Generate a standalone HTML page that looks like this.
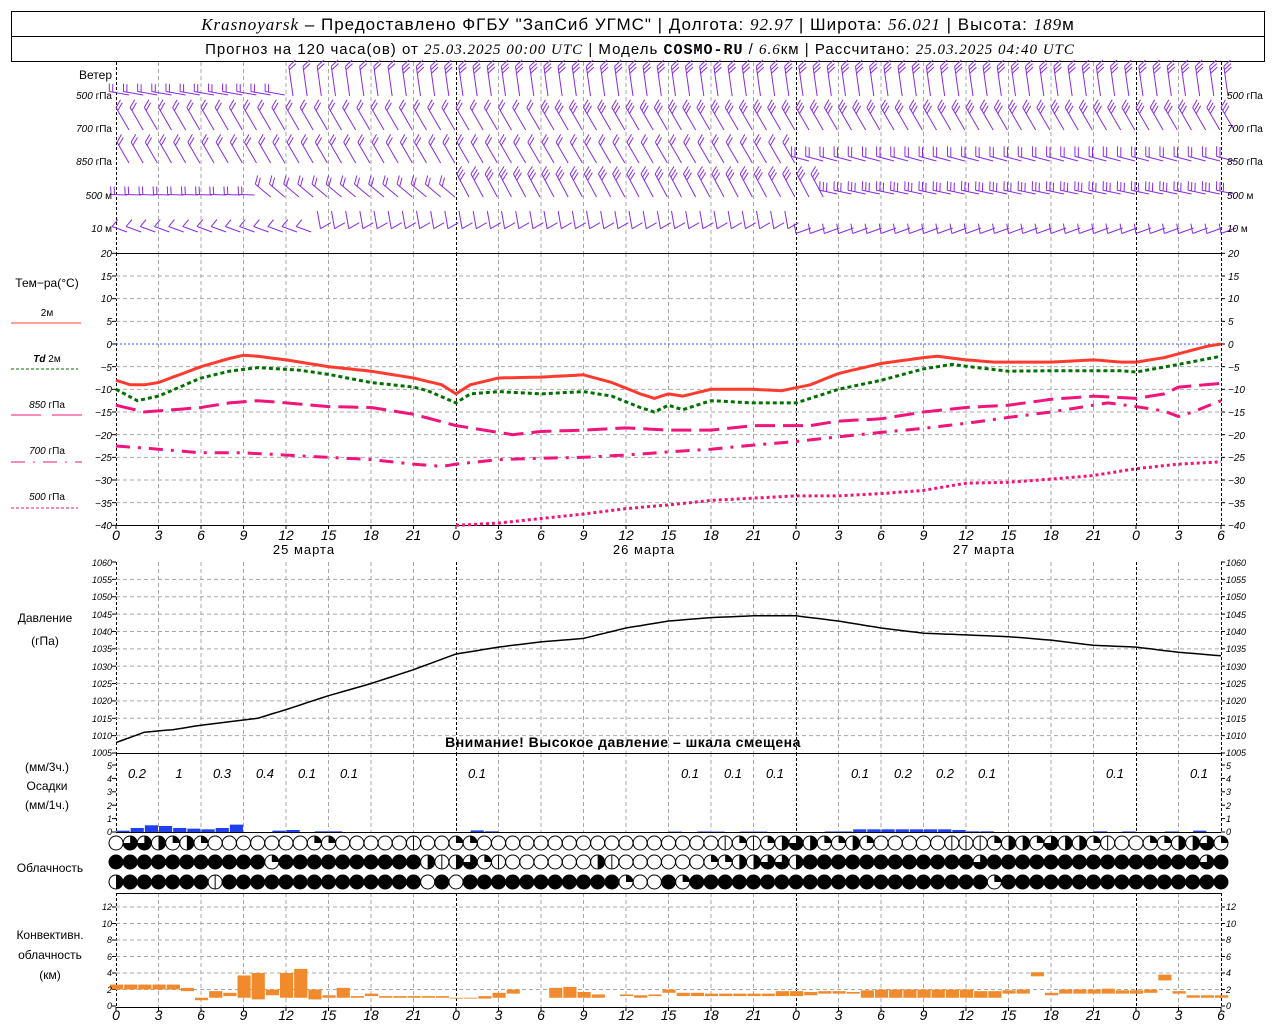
<!DOCTYPE html>
<html><head><meta charset="utf-8">
<style>
html,body{margin:0;padding:0;background:#fff;}
svg{display:block;font-family:"Liberation Sans","DejaVu Sans",sans-serif;}
.t{font-size:11px;font-style:italic;fill:#000;}
.l{font-size:12px;fill:#000;}
.w{font-size:10px;fill:#000;}
</style></head><body>
<svg id="s" width="1280" height="1024" viewBox="0 0 1280 1024" xmlns="http://www.w3.org/2000/svg">
<rect width="1280" height="1024" fill="#fff"/>
<rect x="11.5" y="11.5" width="1253" height="50" fill="none" stroke="#000"/>
<line x1="11" y1="36.5" x2="1265" y2="36.5" stroke="#000"/>
<text x="638" y="30" text-anchor="middle" style="font-size:17px;letter-spacing:1px"><tspan font-family="Liberation Serif" font-style="italic">Krasnoyarsk</tspan> – Предоставлено ФГБУ "ЗапСиб УГМС" | Долгота: <tspan font-family="Liberation Serif" font-style="italic">92.97</tspan> | Широта: <tspan font-family="Liberation Serif" font-style="italic">56.021</tspan> | Высота: <tspan font-family="Liberation Serif" font-style="italic">189</tspan>м</text>
<text x="640" y="54" text-anchor="middle" style="font-size:15px;letter-spacing:1px">Прогноз на 120 часа(ов) от <tspan font-family="Liberation Serif" font-style="italic">25.03.2025 00:00 UTC</tspan> | Модель <tspan font-weight="bold" font-family="Liberation Mono">COSMO-RU</tspan> / <tspan font-family="Liberation Serif" font-style="italic">6.6</tspan>км | Рассчитано: <tspan font-family="Liberation Serif" font-style="italic">25.03.2025 04:40 UTC</tspan></text>

<g id="grid"></g>
<g id="data"></g>

<g class="w" text-anchor="end">
<text x="112" y="79" style="font-size:12px">Ветер</text>
<text x="112" y="99"><tspan font-style="italic">500</tspan> гПа</text>
<text x="112" y="132"><tspan font-style="italic">700</tspan> гПа</text>
<text x="112" y="165"><tspan font-style="italic">850</tspan> гПа</text>
<text x="112" y="199"><tspan font-style="italic">500</tspan> м</text>
<text x="112" y="232"><tspan font-style="italic">10</tspan>  м</text>
</g>
<g class="w">
<text x="1227" y="99"><tspan font-style="italic">500</tspan> гПа</text>
<text x="1227" y="132"><tspan font-style="italic">700</tspan> гПа</text>
<text x="1227" y="165"><tspan font-style="italic">850</tspan> гПа</text>
<text x="1227" y="199"><tspan font-style="italic">500</tspan> м</text>
<text x="1227" y="232"><tspan font-style="italic">10</tspan>  м</text>
</g>

<g class="l" text-anchor="middle">
<text x="47" y="287">Тем−ра(°С)</text>
<text x="47" y="316" style="font-size:10px">2м</text>
<text x="47" y="362" style="font-size:10px"><tspan font-style="italic" font-weight="bold">Td</tspan>  2м</text>
<text x="47" y="408" style="font-size:10px"><tspan font-style="italic">850</tspan> гПа</text>
<text x="47" y="454" style="font-size:10px"><tspan font-style="italic">700</tspan> гПа</text>
<text x="47" y="500" style="font-size:10px"><tspan font-style="italic">500</tspan> гПа</text>
<text x="45" y="622">Давление</text>
<text x="45" y="645">(гПа)</text>
<text x="47" y="771">(мм/3ч.)</text>
<text x="47" y="790">Осадки</text>
<text x="47" y="809">(мм/1ч.)</text>
<text x="50" y="872">Облачность</text>
<text x="50" y="939">Конвективн.</text>
<text x="50" y="959">облачность</text>
<text x="50" y="979">(км)</text>
</g>
<line x1="11" y1="323" x2="81" y2="323" stroke="#ff3b30" stroke-width="1"/>
<line x1="11" y1="369" x2="78" y2="369" stroke="#007000" stroke-dasharray="3,2"/>
<line x1="11" y1="415" x2="41" y2="415" stroke="#f0147c"/><line x1="52" y1="415" x2="82" y2="415" stroke="#f0147c"/>
<line x1="11" y1="462" x2="82" y2="462" stroke="#f0147c" stroke-dasharray="14,8,2,8"/>
<line x1="11" y1="508" x2="78" y2="508" stroke="#f0147c" stroke-dasharray="3,2"/>

<g class="t" text-anchor="end" style="font-size:10px">
<text x="112" y="257">20</text><text x="112" y="280">15</text><text x="112" y="302">10</text><text x="112" y="325">5</text><text x="112" y="348">0</text><text x="112" y="371">−5</text><text x="112" y="393">−10</text><text x="112" y="416">−15</text><text x="112" y="439">−20</text><text x="112" y="461">−25</text><text x="112" y="484">−30</text><text x="112" y="507">−35</text><text x="112" y="529">−40</text>
</g>
<g class="t" style="font-size:10px">
<text x="1228" y="257">20</text><text x="1228" y="280">15</text><text x="1228" y="302">10</text><text x="1228" y="325">5</text><text x="1228" y="348">0</text><text x="1228" y="371">−5</text><text x="1228" y="393">−10</text><text x="1228" y="416">−15</text><text x="1228" y="439">−20</text><text x="1228" y="461">−25</text><text x="1228" y="484">−30</text><text x="1228" y="507">−35</text><text x="1228" y="529">−40</text>
</g>
<g class="t" text-anchor="middle" style="font-size:14px">
<text x="116" y="540">0</text><text x="158.5" y="540">3</text><text x="201" y="540">6</text><text x="243.5" y="540">9</text><text x="286" y="540">12</text><text x="328.5" y="540">15</text><text x="371" y="540">18</text><text x="413.5" y="540">21</text><text x="456" y="540">0</text><text x="498.5" y="540">3</text><text x="541" y="540">6</text><text x="583.5" y="540">9</text><text x="626" y="540">12</text><text x="668.5" y="540">15</text><text x="711" y="540">18</text><text x="753.5" y="540">21</text><text x="796" y="540">0</text><text x="838.5" y="540">3</text><text x="881" y="540">6</text><text x="923.5" y="540">9</text><text x="966" y="540">12</text><text x="1008.5" y="540">15</text><text x="1051" y="540">18</text><text x="1093.5" y="540">21</text><text x="1136" y="540">0</text><text x="1178.5" y="540">3</text><text x="1221" y="540">6</text>
</g>
<g class="l" text-anchor="middle" style="font-size:13px;letter-spacing:1px">
<text x="304" y="554">25 марта</text><text x="644" y="554">26 марта</text><text x="984" y="554">27 марта</text>
</g>
<g class="t" text-anchor="end" style="font-size:9px">
<text x="112" y="566">1060</text><text x="112" y="583">1055</text><text x="112" y="600">1050</text><text x="112" y="618">1045</text><text x="112" y="635">1040</text><text x="112" y="652">1035</text><text x="112" y="670">1030</text><text x="112" y="687">1025</text><text x="112" y="704">1020</text><text x="112" y="722">1015</text><text x="112" y="739">1010</text><text x="112" y="756">1005</text>
</g>
<g class="t" style="font-size:9px">
<text x="1226" y="566">1060</text><text x="1226" y="583">1055</text><text x="1226" y="600">1050</text><text x="1226" y="618">1045</text><text x="1226" y="635">1040</text><text x="1226" y="652">1035</text><text x="1226" y="670">1030</text><text x="1226" y="687">1025</text><text x="1226" y="704">1020</text><text x="1226" y="722">1015</text><text x="1226" y="739">1010</text><text x="1226" y="756">1005</text>
</g>
<text x="623" y="747" text-anchor="middle" style="font-size:14px;font-weight:bold;letter-spacing:0.5px">Внимание! Высокое давление – шкала смещена</text>
<g class="t" text-anchor="end" style="font-size:9px">
<text x="112" y="769">5</text><text x="112" y="782">4</text><text x="112" y="795">3</text><text x="112" y="809">2</text><text x="112" y="822">1</text><text x="112" y="835">0</text>
</g>
<g class="t" style="font-size:9px">
<text x="1226" y="769">5</text><text x="1226" y="782">4</text><text x="1226" y="795">3</text><text x="1226" y="809">2</text><text x="1226" y="822">1</text><text x="1226" y="835">0</text>
</g>
<g class="t" text-anchor="middle" style="font-size:13px">
<text x="137" y="778">0.2</text><text x="179" y="778">1</text><text x="222" y="778">0.3</text><text x="265" y="778">0.4</text><text x="307" y="778">0.1</text><text x="349" y="778">0.1</text><text x="477" y="778">0.1</text><text x="690" y="778">0.1</text><text x="733" y="778">0.1</text><text x="775" y="778">0.1</text><text x="860" y="778">0.1</text><text x="903" y="778">0.2</text><text x="945" y="778">0.2</text><text x="987" y="778">0.1</text><text x="1115" y="778">0.1</text><text x="1199" y="778">0.1</text>
</g>
<g class="t" text-anchor="end" style="font-size:9px">
<text x="112" y="910">12</text><text x="112" y="927">10</text><text x="112" y="943">8</text><text x="112" y="960">6</text><text x="112" y="976">4</text><text x="112" y="993">2</text><text x="112" y="1009">0</text>
</g>
<g class="t" style="font-size:9px">
<text x="1226" y="910">12</text><text x="1226" y="927">10</text><text x="1226" y="943">8</text><text x="1226" y="960">6</text><text x="1226" y="976">4</text><text x="1226" y="993">2</text><text x="1226" y="1009">0</text>
</g>
<g class="t" text-anchor="middle" style="font-size:14px">
<text x="116" y="1020">0</text><text x="158.5" y="1020">3</text><text x="201" y="1020">6</text><text x="243.5" y="1020">9</text><text x="286" y="1020">12</text><text x="328.5" y="1020">15</text><text x="371" y="1020">18</text><text x="413.5" y="1020">21</text><text x="456" y="1020">0</text><text x="498.5" y="1020">3</text><text x="541" y="1020">6</text><text x="583.5" y="1020">9</text><text x="626" y="1020">12</text><text x="668.5" y="1020">15</text><text x="711" y="1020">18</text><text x="753.5" y="1020">21</text><text x="796" y="1020">0</text><text x="838.5" y="1020">3</text><text x="881" y="1020">6</text><text x="923.5" y="1020">9</text><text x="966" y="1020">12</text><text x="1008.5" y="1020">15</text><text x="1051" y="1020">18</text><text x="1093.5" y="1020">21</text><text x="1136" y="1020">0</text><text x="1178.5" y="1020">3</text><text x="1221" y="1020">6</text>
</g>
</svg>
<script>
(function(){
var NS="http://www.w3.org/2000/svg";
var G=document.getElementById("grid"),D=document.getElementById("data");
function el(p,tag,a){var e=document.createElementNS(NS,tag);for(var k in a)e.setAttribute(k,a[k]);p.appendChild(e);return e;}
var X0=116,XS=340/24;
function X(h){return X0+h*XS;}
function line(p,x1,y1,x2,y2,c,dash,w){var a={x1:x1,y1:y1,x2:x2,y2:y2,stroke:c,"stroke-width":w||1};if(dash)a["stroke-dasharray"]=dash;el(p,"line",a);}
var panels=[[62,253],[253,525],[562,753],[753,832],[893,1007]];
panels.forEach(function(p){
 for(var k=1;k<26;k++){ if(k%8==0)continue; line(G,X(k*3),p[0],X(k*3),p[1],"#a8a8a8","4,3");}
 [24,48,72].forEach(function(h){line(G,X(h)+0.5,p[0],X(h)+0.5,p[1],"#000","3,2");});
 line(G,X0+0.5,p[0],X0+0.5,p[1],"#000","3,2");
 line(G,X(78)+0.5,p[0],X(78)+0.5,p[1],"#000","3,2");
});
for(var t=15;t>=-35;t-=5){var y=344-t*272/60;line(G,X0,y,X(78),y,t==0?"#3050ff":"#a8a8a8",t==0?"2,2":"4,3");}
for(var k=1;k<11;k++){var y=562+k*191/11;line(G,X0,y,X(78),y,"#a8a8a8","4,3");}
for(var k=1;k<=6;k++){var y=1006-k*16.5;line(G,X0,y,X(78),y,"#a8a8a8","4,3");}
line(G,X0,253.5,X(78),253.5,"#000");
line(G,X0,525.5,X(78),525.5,"#000");
line(G,X0,753.5,X(78),753.5,"#000");
line(G,X0,832.5,X(78),832.5,"#000");
line(G,X0,893.5,X(78),893.5,"#000");
line(G,X0,1007.5,X(78),1007.5,"#000");
function ticks(vals,fn){vals.forEach(function(v){var y=fn(v);line(G,X0-4,y,X0,y,"#000");line(G,X(78),y,X(78)+4,y,"#000");});}
var tv=[];for(var t=20;t>=-40;t-=5)tv.push(t);ticks(tv,function(t){return 344-t*272/60;});
var pv=[];for(var k=0;k<12;k++)pv.push(k);ticks(pv,function(k){return 562+k*191/11;});
ticks([0,1,2,3,4,5],function(k){return 832-k*13.4;});
ticks([0,1,2,3,4,5,6],function(k){return 1006-k*16.5;});
for(var k=0;k<=26;k++){line(G,X(k*3),1007,X(k*3),1011,"#000");line(G,X(k*3),525,X(k*3),529,"#000");}

function interp(pts,h){for(var i=0;i<pts.length-1;i++){if(h>=pts[i][0]&&h<=pts[i+1][0]){var f=(h-pts[i][0])/(pts[i+1][0]-pts[i][0]);return pts[i][1]+f*(pts[i+1][1]-pts[i][1]);}}return null;}
function series(pts,yf,col,w,dash,h0,h1){var d="";for(var h=h0;h<=h1+1e-6;h+=0.5){var v=interp(pts,h);if(v===null)continue;d+=(d?"L":"M")+X(h).toFixed(1)+","+yf(v).toFixed(1);}var a={d:d,fill:"none",stroke:col,"stroke-width":w};if(dash)a["stroke-dasharray"]=dash;el(D,"path",a);}
var TY=function(t){return 344-t*272/60;};
var T2=[[0,-8],[1,-9],[2,-9],[3,-8.5],[6,-5],[8,-3.2],[9,-2.5],[10,-2.7],[12,-3.5],[15,-5],[18,-6],[21,-7.5],[23,-9],[24,-11],[25,-9],[27,-7.5],[30,-7.3],[33,-6.8],[35,-8.5],[37,-11],[38,-12],[39,-11],[40,-11.5],[42,-10],[45,-10],[47,-10.3],[49,-9],[51,-6.5],[54,-4.3],[57,-3],[58,-2.7],[60,-3.5],[62,-4],[66,-4],[69,-3.5],[71,-4],[72,-4],[74,-3],[77,-0.5],[78,0]];
var TD=[[0,-10],[1.5,-12.5],[3,-11.5],[6,-7.5],[8,-6],[10,-5.2],[13,-5.8],[15,-6.7],[18,-8.5],[21,-9.5],[22,-10.3],[24,-13],[25,-11],[27,-10.5],[30,-11],[33,-10.5],[35,-11.5],[37,-14],[38,-15],[39,-13.5],[40,-14.5],[42,-12.5],[45,-13],[48,-13],[51,-10],[54,-8],[57,-5.5],[59,-4.5],[61,-5.3],[63,-6],[66,-5.9],[71,-5.9],[72,-6.2],[75,-4.5],[78,-2.7]];
var T85=[[0,-13.5],[2,-15],[4,-14.5],[6,-14],[8,-13],[10,-12.5],[12,-13],[15,-13.8],[18,-14],[21,-15.5],[24,-18],[27,-19.5],[28,-20],[30,-19.3],[33,-19],[36,-18.5],[39,-19],[42,-19],[45,-18],[48,-18],[49,-18],[51,-17],[54,-16.5],[57,-15],[60,-14],[63,-13.5],[66,-12.2],[69,-11.5],[72,-12],[74,-11],[75,-9.5],[78,-8.7]];
var T70=[[0,-22.5],[3,-23.2],[6,-24],[9,-24],[12,-24.5],[15,-25],[18,-25.5],[21,-26.5],[23,-27],[24,-26.5],[27,-25.5],[30,-25.2],[33,-25],[36,-24.5],[39,-23.8],[42,-23.2],[45,-22.3],[48,-21.5],[50,-20.8],[54,-19.5],[57,-18.6],[60,-17.5],[63,-16.2],[66,-15],[69,-13.5],[70,-13],[72,-13.8],[74,-14.8],[75,-16],[76,-15],[78,-12.5]];
var T50=[[24,-40],[27,-39.5],[30,-38.5],[33,-37.5],[36,-36.3],[39,-35.5],[42,-34.5],[45,-34],[48,-33.5],[51,-33.5],[54,-33],[57,-32.3],[60,-30.7],[63,-30.5],[66,-29.8],[69,-29],[72,-27.5],[75,-26.5],[78,-26]];
series(T50,TY,"#f0147c",3,"3,3",24,78);
series(T70,TY,"#f0147c",3,"14,8,3,8",0,78);
series(T85,TY,"#f0147c",3,"20,8",0,78);
series(TD,TY,"#007000",3,"4,3",0,78);
series(T2,TY,"#ff3b30",3,null,0,78);
var P=[[0,1008],[1,1009.5],[2,1011],[4,1011.7],[6,1013],[8,1014],[10,1015],[12,1017.5],[15,1021.5],[18,1025],[21,1029],[24,1033.5],[27,1035.5],[30,1037],[33,1038],[36,1041],[39,1043],[42,1044],[45,1044.5],[48,1044.5],[51,1043],[54,1041],[57,1039.5],[60,1039],[63,1038.5],[66,1037.5],[69,1036],[72,1035.5],[75,1034],[78,1033]];
series(P,function(p){return 562+(1060-p)*191/55;},"#000",1.5,null,0,78);
var pr={1:0.1,2:0.3,3:0.5,4:0.45,5:0.3,6:0.25,7:0.2,8:0.3,9:0.55,12:0.1,13:0.15,15:0.05,16:0.05,26:0.12,27:0.05,40:0.03,42:0.04,43:0.03,45:0.03,46:0.03,51:0.04,52:0.04,53:0.2,54:0.2,55:0.2,56:0.2,57:0.2,58:0.2,59:0.2,60:0.15,61:0.05,62:0.05,70:0.05,72:0.04,75:0.04,77:0.1};
for(var h in pr){var v=pr[h],hh=+h;el(D,"rect",{x:X(hh-1)+0.5,y:832-v*13.4,width:XS-1,height:v*13.4,fill:"#2040f0"});}
var cv=[[0,2.0,2.6],[1,2.0,2.6],[2,2.0,2.6],[3,2.0,2.6],[4,2.0,2.6],[5,1.8,2.2],[6,0.7,1.0],[7,1.0,1.8],[8,1.2,1.6],[9,1.0,3.7],[10,0.8,4.0],[11,1.3,2.0],[12,1.0,4.0],[13,1.0,4.5],[14,0.8,2.0],[15,1.0,1.3],[16,1.0,2.2],[17,1.0,1.2],[18,1.2,1.5],[19,1.0,1.2],[20,1.0,1.2],[21,1.0,1.2],[22,1.0,1.2],[23,1.0,1.2],[24,0.9,1.0],[25,0.9,1.0],[26,0.9,1.2],[27,1.0,1.6],[28,1.5,2.0],[31,1.0,2.2],[32,1.0,2.3],[33,1.0,1.7],[34,1.0,1.4],[36,1.2,1.4],[37,1.0,1.3],[38,1.2,1.4],[39,1.6,2.0],[40,1.2,1.6],[41,1.2,1.6],[42,1.2,1.5],[43,1.2,1.5],[44,1.2,1.5],[45,1.2,1.5],[46,1.2,1.5],[47,1.2,1.8],[48,1.2,1.8],[49,1.3,1.7],[50,1.5,1.8],[51,1.5,1.8],[52,1.5,1.7],[53,1.0,1.9],[54,1.0,2.0],[55,1.0,2.0],[56,1.0,2.0],[57,1.0,2.0],[58,1.0,2.0],[59,1.0,2.0],[60,1.0,2.0],[61,1.0,1.8],[62,1.0,1.8],[63,1.5,1.9],[64,1.5,2.0],[65,3.6,4.1],[66,1.3,1.6],[67,1.5,2.0],[68,1.5,2.0],[69,1.5,2.0],[70,1.5,2.1],[71,1.5,1.9],[72,1.5,1.9],[73,1.6,2.0],[74,3.1,3.8],[75,1.5,1.8],[76,1.0,1.3],[77,1.0,1.3],[78,1.0,1.3]];
cv.forEach(function(c){var y1=1006-c[2]*8.25,y2=1006-c[1]*8.25;el(D,"rect",{x:X(c[0])-6,y:y1,width:XS-1,height:y2-y1,fill:"#f08a2c"});});
var rows=[
"otthqhqoooooooqqooooovooqqooooooooooooooooovqvqhthqqhqooooovvvqhhqthhqvooqqhhtqq",
"fffffffffffqffffffffffhvhtqvoooooohvooooooqqhhtthfffffffffffftffffffffffffffftff",
"hffffffvffffffffffffffofofffffffffffqoofqfffffffffffffffffffffqffffffffffffffff"];
var ry=[843,862,882];
rows.forEach(function(r,ri){
 for(var i=0;i<79;i++){
  var c=r.charAt(i)||"f",cx=X(i),cy=ry[ri],R=7;
  el(D,"circle",{cx:cx,cy:cy,r:R,fill:c=="f"?"#000":"#fff",stroke:"#000","stroke-width":1});
  if(c=="q")el(D,"path",{d:"M"+cx+","+cy+"L"+cx+","+(cy-R)+"A"+R+","+R+" 0 0 1 "+(cx+R)+","+cy+"Z",fill:"#000"});
  if(c=="h")el(D,"path",{d:"M"+cx+","+(cy-R)+"A"+R+","+R+" 0 0 1 "+cx+","+(cy+R)+"Z",fill:"#000"});
  if(c=="t")el(D,"path",{d:"M"+cx+","+cy+"L"+cx+","+(cy-R)+"A"+R+","+R+" 0 1 1 "+(cx-R)+","+cy+"Z",fill:"#000"});
  if(c=="v")line(D,cx,cy-R,cx,cy+R,"#000");
 }
});
// wind barbs: staff from base at angle ang (deg, y up), barbs at tip rotated by off
var WC="#8a2be2";
function barb(x,y,ang,n,len,off,bl){
 var a=ang*Math.PI/180,dx=Math.cos(a),dy=-Math.sin(a);
 var ex=x+dx*len,ey=y+dy*len;
 line(D,x,y,ex,ey,WC,null,1);
 var b=(ang+off)*Math.PI/180,bx=Math.cos(b),by=-Math.sin(b);
 bl=bl||9;
 for(var k=0;k<n;k++){var sx=ex-dx*k*3.5,sy=ey-dy*k*3.5;line(D,sx,sy,sx+bx*bl,sy+by*bl,WC,null,1);}
}
for(var i=0;i<79;i++){
 var x=X(i)+3;
 // 500 hPa
 if(i<12) barb(x+10,95,170,2,20,-80,8);
 else barb(x+4,96,98,i<20?2:3,30,-55,9);
 // 700
 barb(x+10,130,120,i<30?2:3,26,-60,9);
 // 850
 if(i<48) barb(x+10,163,120,2,24,-60,9);
 else barb(x+10,161,165,2,18,-75,10);
 // 500 m
 if(i<10) barb(x+8,195,178,2,16,-85,8);
 else if(i<24) barb(x+10,197,140,2,20,-65,9);
 else if(i<50) barb(x+10,197,118,3,26,-60,9);
 else barb(x+10,194,168,3,18,-80,9);
 // 10 m
 if(i<14) barb(x+8,232,160,1,16,-110,9);
 else if(i<48) barb(x,211,-80,1,18,110,12);
 else barb(x+12,228,200,1,16,-100,10);
}
})();
</script>
</body></html>
